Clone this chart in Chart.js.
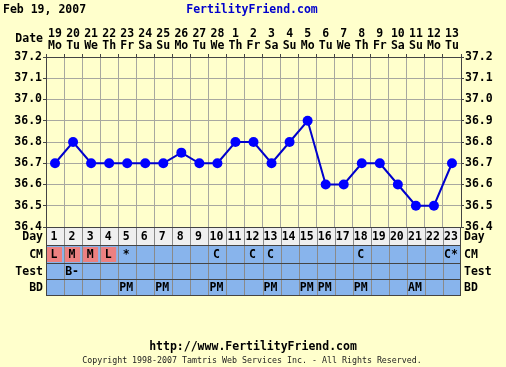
<!DOCTYPE html>
<html>
<head>
<meta charset="utf-8">
<script src="https://cdn.jsdelivr.net/npm/chart.js@4/dist/chart.umd.min.js"></script>
<style>
html,body{margin:0;padding:0;background:#ffffcc;}
canvas{display:block;}
</style>
</head>
<body>
<canvas id="c" width="506" height="367"></canvas>
<script>
const dates = ['19','20','21','22','23','24','25','26','27','28','1','2','3','4','5','6','7','8','9','10','11','12','13'];
const weekdays = ['Mo','Tu','We','Th','Fr','Sa','Su','Mo','Tu','We','Th','Fr','Sa','Su','Mo','Tu','We','Th','Fr','Sa','Su','Mo','Tu'];
const temps = [36.7,36.8,36.7,36.7,36.7,36.7,36.7,36.75,36.7,36.7,36.8,36.8,36.7,36.8,36.9,36.6,36.6,36.7,36.7,36.6,36.5,36.5,36.7];
const cycleDays = ['1','2','3','4','5','6','7','8','9','10','11','12','13','14','15','16','17','18','19','20','21','22','23'];
const cmRow = ['L','M','M','L','*','','','','','C','','C','C','','','','','C','','','','','C*'];
const testRow = ['','B-','','','','','','','','','','','','','','','','','','','','',''];
const bdRow = ['','','','','PM','','PM','','','PM','','','PM','','PM','PM','','PM','','','AM','',''];
const yTicks = [36.4,36.5,36.6,36.7,36.8,36.9,37.0,37.1,37.2];

const MONO = '"DejaVu Sans Mono", monospace';
const BOLD = 'bold 11.5px ' + MONO;
const CREAM = '#ffffcc';
const BLUE = '#88b4ec';
const PINK = '#ec8080';

const bgPlugin = {
  id: 'bg',
  beforeDraw(chart) {
    const c = chart.ctx;
    c.save();
    c.fillStyle = CREAM;
    c.fillRect(0, 0, chart.width, chart.height);
    c.restore();
  }
};

const tablePlugin = {
  id: 'table',
  afterDraw(chart) {
    const c = chart.ctx, xs = chart.scales.x, ca = chart.chartArea;
    const n = dates.length;
    const w = (ca.right - ca.left) / n;
    const rows = [
      {label: 'Day', h: 18, bg: '#efefef', texts: cycleDays},
      {label: 'CM', h: 18, bg: BLUE, texts: cmRow},
      {label: 'Test', h: 16, bg: BLUE, texts: testRow},
      {label: 'BD', h: 16, bg: BLUE, texts: bdRow}
    ];
    c.save();
    let y = ca.bottom;
    c.font = BOLD;
    c.textBaseline = 'middle';
    rows.forEach((r) => {
      c.fillStyle = r.bg;
      c.fillRect(ca.left, y, ca.right - ca.left, r.h);
      for (let i = 0; i < n; i++) {
        const cx = xs.getPixelForValue(i);
        const left = cx - w / 2;
        const t = r.texts[i];
        if (r.label === 'CM' && (t === 'L' || t === 'M' || t === 'H')) {
          c.fillStyle = PINK;
          c.fillRect(left + 1, y + 2, w - 3, r.h - 3);
        }
        if (t) {
          c.fillStyle = '#000';
          c.textAlign = 'center';
          c.fillText(t, cx - 1, y + r.h / 2 + 1);
        }
      }
      c.strokeStyle = '#8a8a8a';
      c.lineWidth = 1;
      for (let i = 1; i < n; i++) {
        const x = Math.round(xs.getPixelForValue(i) - w / 2) + 0.5;
        c.beginPath(); c.moveTo(x, y); c.lineTo(x, y + r.h); c.stroke();
      }
      c.fillStyle = '#000';
      c.textAlign = 'right';
      c.fillText(r.label, ca.left - 3, y + r.h / 2 + 1);
      c.textAlign = 'left';
      c.fillText(r.label, ca.right + 3, y + r.h / 2 + 1);
      c.strokeStyle = '#444';
      c.beginPath(); c.moveTo(ca.left, Math.round(y) + 0.5); c.lineTo(ca.right, Math.round(y) + 0.5); c.stroke();
      y += r.h;
    });
    c.strokeStyle = '#444';
    c.beginPath(); c.moveTo(ca.left, Math.round(y) + 0.5); c.lineTo(ca.right, Math.round(y) + 0.5); c.stroke();
    c.beginPath(); c.moveTo(Math.round(ca.left) + 0.5, ca.bottom); c.lineTo(Math.round(ca.left) + 0.5, y); c.stroke();
    c.beginPath(); c.moveTo(Math.round(ca.right) - 0.5, ca.bottom); c.lineTo(Math.round(ca.right) - 0.5, y); c.stroke();

    c.textBaseline = 'middle';
    c.fillStyle = '#000';
    c.textAlign = 'left';
    c.fillText('Feb 19, 2007', 3, 10);
    c.fillStyle = '#0000cc';
    c.textAlign = 'center';
    c.fillText('FertilityFriend.com', 252, 10);
    c.fillStyle = '#000';
    c.textAlign = 'right';
    c.fillText('Date', ca.left - 3, 39);
    c.textAlign = 'center';
    c.fillText('http://www.FertilityFriend.com', 253, 347);
    c.font = '8.3px ' + MONO;
    c.fillStyle = '#222';
    c.fillText('Copyright 1998-2007 Tamtris Web Services Inc. - All Rights Reserved.', 252, 361);
    c.restore();
  }
};

const yScale = (pos, width) => ({
  type: 'linear',
  position: pos,
  min: yTicks[0],
  max: yTicks[yTicks.length - 1],
  afterBuildTicks(scale) { scale.ticks = yTicks.map(v => ({value: v})); },
  afterFit(scale) { scale.width = width; },
  ticks: {
    font: {family: MONO, size: 11.5, weight: 'bold'},
    color: '#000',
    padding: 1,
    callback: v => Number(v).toFixed(1)
  },
  grid: {
    color: '#a8a8a0',
    tickLength: 3,
    tickColor: '#444',
    drawOnChartArea: pos === 'left'
  },
  border: {color: '#444'}
});

new Chart(document.getElementById('c'), {
  type: 'line',
  data: {
    labels: dates.map((d, i) => [d, weekdays[i]]),
    datasets: [{
      data: temps,
      borderColor: '#0000cc',
      borderWidth: 2,
      pointRadius: 5,
      pointHoverRadius: 5,
      pointBackgroundColor: '#0000ff',
      pointBorderColor: '#0000ff',
      pointBorderWidth: 0,
      tension: 0
    }]
  },
  options: {
    responsive: false,
    animation: false,
    events: [],
    layout: {padding: {left: 0, right: 0, top: 0, bottom: 140}},
    plugins: {legend: {display: false}, tooltip: {enabled: false}},
    scales: {
      x: {
        type: 'category',
        position: 'top',
        offset: true,
        afterFit(scale) { scale.height = 57; },
        grid: {offset: true, color: '#a8a8a0', tickLength: 3, tickColor: '#444'},
        border: {color: '#444'},
        ticks: {
          font: {family: MONO, size: 11.5, weight: 'bold', lineHeight: 1.05},
          color: '#000',
          maxRotation: 0,
          autoSkip: false,
          padding: 2
        }
      },
      y: yScale('left', 46),
      y2: yScale('right', 45)
    }
  },
  plugins: [bgPlugin, tablePlugin]
});
</script>
</body>
</html>
